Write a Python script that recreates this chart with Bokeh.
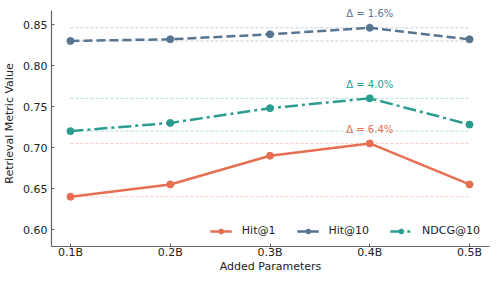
from bokeh.plotting import figure
from bokeh.models import ColumnDataSource, FixedTicker, NumeralTickFormatter, Range1d, Label
from bokeh.embed import file_html
from bokeh.resources import INLINE

params = [0.1, 0.2, 0.3, 0.4, 0.5]
tick_labels = ["0.1B", "0.2B", "0.3B", "0.4B", "0.5B"]
hit1 = [0.640, 0.655, 0.690, 0.705, 0.655]
hit10 = [0.830, 0.832, 0.838, 0.846, 0.832]
ndcg10 = [0.720, 0.730, 0.748, 0.760, 0.728]
series_names = ["Hit@1", "Hit@10", "NDCG@10"]
delta_labels = ["Δ = 6.4%", "Δ = 1.6%", "Δ = 4.0%"]
y_ticks = [0.60, 0.65, 0.70, 0.75, 0.80, 0.85]
y_axis_bounds = (0.5793, 0.8671)

colors = ["#E76F51", "#577590", "#2A9D8F"]
dashes = ["solid", "9 4", "13 4 3 4"]
FONT = "DejaVu Sans"

p = figure(width=498, height=283, output_backend="svg", toolbar_location=None,
           x_range=Range1d(0.081, 0.520), y_range=Range1d(0.5793, 0.8793),
           min_border_left=51, min_border_right=9, min_border_top=0, min_border_bottom=37)
p.outline_line_color = None
p.xgrid.visible = False
p.ygrid.visible = False
p.background_fill_color = "white"
p.border_fill_color = "white"

all_series = [hit1, hit10, ndcg10]

# reference dotted lines at min and max of each series
for vals, col in zip(all_series, colors):
    lo, hi = min(vals), max(vals)
    p.segment(x0=[params[0], params[0]], x1=[params[-1], params[-1]], y0=[lo, hi], y1=[lo, hi],
              line_color=col, line_alpha=0.35, line_width=1, line_dash="3 2")

for vals, col, dash, name in zip(all_series, colors, dashes, series_names):
    src = ColumnDataSource(dict(x=params, y=vals))
    p.line("x", "y", source=src, line_color=col, line_width=2.5, line_dash=dash, legend_label=name)
    p.scatter("x", "y", source=src, size=7, fill_color=col, line_color=col, legend_label=name)

# delta annotations above each max
for vals, col, lab in zip(all_series, colors, delta_labels):
    i = vals.index(max(vals))
    p.add_layout(Label(x=params[i], y=vals[i], text=lab, text_color=col, text_font=FONT,
                       text_font_size="10px", text_align="center", text_baseline="middle",
                       y_offset=14))

# axes
p.xaxis.ticker = FixedTicker(ticks=params)
p.xaxis.major_label_overrides = {x: l for x, l in zip(params, tick_labels)}
p.yaxis.ticker = FixedTicker(ticks=y_ticks)
p.yaxis.formatter = NumeralTickFormatter(format="0.00")
p.yaxis.bounds = y_axis_bounds
p.xaxis.axis_label = "Added Parameters"
p.yaxis.axis_label = "Retrieval Metric Value"
for ax in [p.xaxis[0], p.yaxis[0]]:
    ax.axis_line_color = "#666666"
    ax.axis_line_width = 1.2
    ax.major_tick_line_color = "#666666"
    ax.major_tick_in = 3
    ax.major_tick_out = 0
    ax.minor_tick_line_color = None
    ax.major_label_text_font = FONT
    ax.major_label_text_font_size = "11px"
    ax.major_label_text_color = "#222222"
    ax.axis_label_text_font = FONT
    ax.axis_label_text_font_size = "11px"
    ax.axis_label_text_font_style = "normal"
    ax.axis_label_text_color = "#222222"
p.xaxis.major_label_standoff = -1
p.xaxis.axis_label_standoff = -2
p.yaxis.major_label_standoff = 4
p.yaxis.axis_label_standoff = 4

leg = p.legend[0]
leg.location = "bottom_right"
leg.orientation = "horizontal"
leg.border_line_color = None
leg.background_fill_alpha = 0
leg.label_text_font = FONT
leg.label_text_font_size = "11px"
leg.label_text_color = "#222222"
leg.glyph_width = 22
leg.glyph_height = 12
leg.label_standoff = 10
leg.spacing = 21
leg.margin = 9
leg.padding = 5

open("out.html", "w").write(file_html(p, INLINE))
